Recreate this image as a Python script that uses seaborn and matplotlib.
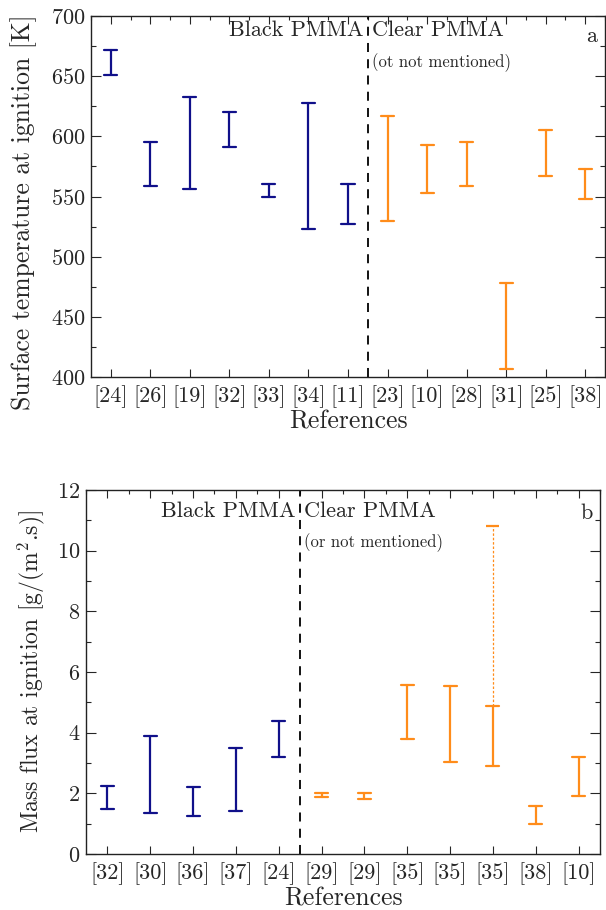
import numpy as np
import pandas as pd
import matplotlib
matplotlib.use("Agg")
import matplotlib.pyplot as plt
import seaborn as sns
from matplotlib.ticker import MultipleLocator

# ---------------- data ----------------
refs_a = ["[24]", "[26]", "[19]", "[32]", "[33]", "[34]", "[11]",
          "[23]", "[10]", "[28]", "[31]", "[25]", "[38]"]
low_a = [651, 559, 556, 591, 550, 523, 527, 530, 553, 559, 407, 567, 548]
high_a = [672, 595, 633, 620, 560, 628, 560, 617, 593, 595, 478, 605, 573]
group_a = ["Black"] * 7 + ["Clear"] * 6

refs_b = ["[32]", "[30]", "[36]", "[37]", "[24]", "[29]", "[29]",
          "[35]", "[35]", "[35]", "[38]", "[10]"]
low_b = [1.50, 1.35, 1.25, 1.42, 3.20, 1.88, 1.80, 3.78, 3.02, 2.90, 1.00, 1.92]
high_b = [2.25, 3.90, 2.22, 3.50, 4.40, 2.02, 2.02, 5.58, 5.55, 4.88, 1.58, 3.20]
group_b = ["Black"] * 5 + ["Clear"] * 7
ext_idx_b = 9          # index of the point with an extended (dotted) range
ext_high_b = 10.8

palette = {"Black": "#10108a", "Clear": "#ff8c1a"}

# ---------------- style ----------------
sns.set_style("ticks")
plt.rcParams["font.family"] = ["cmr10", "DejaVu Serif"]
plt.rcParams["mathtext.fontset"] = "cm"
plt.rcParams["axes.formatter.use_mathtext"] = True
plt.rcParams["axes.unicode_minus"] = False

fig = plt.figure(figsize=(6.06, 9.10), dpi=100)
W, H = 606, 910
ax1 = fig.add_axes([91 / W, 1 - 377 / H, (605 - 91) / W, (377 - 16) / H])
ax2 = fig.add_axes([86 / W, 1 - 854 / H, (600 - 86) / W, (854 - 490) / H])


def long_df(low, high, group):
    rows = []
    for i, (lo, hi, g) in enumerate(zip(low, high, group)):
        rows.append({"pos": i, "val": lo, "grp": g})
        rows.append({"pos": i, "val": hi, "grp": g})
    return pd.DataFrame(rows)


def draw(ax, refs, low, high, group, capsize):
    df = long_df(low, high, group)
    sns.pointplot(data=df, x="pos", y="val", hue="grp", palette=palette,
                  errorbar=lambda v: (v.min(), v.max()), estimator="mean",
                  markers="", linestyles="none", capsize=capsize,
                  err_kws={"linewidth": 1.6}, dodge=False, legend=False,
                  ax=ax)
    ax.set_xticks(range(len(refs)))
    ax.set_xticklabels(refs)
    ax.set_xlim(-0.5, len(refs) - 0.5)


draw(ax1, refs_a, low_a, high_a, group_a, 0.33)
draw(ax2, refs_b, low_b, high_b, group_b, 0.30)

# dotted extension of one range in panel b
ax2.vlines(ext_idx_b, high_b[ext_idx_b], ext_high_b, colors=palette["Clear"],
           linestyles=(0, (2, 1.5)), linewidth=0.9)
ax2.hlines(ext_high_b, ext_idx_b - 0.15, ext_idx_b + 0.15,
           colors=palette["Clear"], linewidth=1.6)

# axes formatting
ax1.set_ylim(400, 700)
ax1.yaxis.set_major_locator(MultipleLocator(50))
ax1.yaxis.set_minor_locator(MultipleLocator(25))
ax2.set_ylim(0, 12)
ax2.yaxis.set_major_locator(MultipleLocator(2))
ax2.yaxis.set_minor_locator(MultipleLocator(1))

for ax in (ax1, ax2):
    ax.xaxis.set_minor_locator(MultipleLocator(0.5))
    ax.tick_params(axis="both", which="both", direction="in",
                   top=True, right=True, labelsize=16, width=0.8)
    ax.tick_params(axis="x", which="major", length=6, pad=6)
    ax.tick_params(axis="x", which="minor", length=3, bottom=False)
    ax.tick_params(axis="y", which="major", length=7, pad=4)
    ax.tick_params(axis="y", which="minor", length=3.5)
    for s in ax.spines.values():
        s.set_linewidth(1.0)
        s.set_color("#222222")
    ax.set_xlabel("References", fontsize=18.5, labelpad=1)

ax1.set_ylabel("Surface temperature at ignition [K]", fontsize=18.5, labelpad=9)
ax1.yaxis.set_label_coords(-0.105, 0.457)
ax2.set_ylabel(r"Mass flux at ignition [g/(m$^2$.s)]", fontsize=17, labelpad=7)

# group separators and annotations
ax1.axvline(6.5, color="black", linestyle=(0, (5, 4)), linewidth=1.3)
ax2.axvline(4.5, color="black", linestyle=(0, (5, 4)), linewidth=1.3)

ax1.text(6.4, 688, "Black PMMA", ha="right", va="center", fontsize=16)
ax1.text(6.6, 688, "Clear PMMA", ha="left", va="center", fontsize=16)
ax1.text(6.6, 661, "(ot not mentioned)", ha="left", va="center", fontsize=12)
ax1.text(0.985, 0.945, "a", transform=ax1.transAxes, ha="right", va="center",
         fontsize=16)

ax2.text(4.4, 11.3, "Black PMMA", ha="right", va="center", fontsize=16)
ax2.text(4.6, 11.3, "Clear PMMA", ha="left", va="center", fontsize=16)
ax2.text(4.6, 10.28, "(or not mentioned)", ha="left", va="center", fontsize=12)
ax2.text(0.985, 0.935, "b", transform=ax2.transAxes, ha="right", va="center",
         fontsize=16)

fig.savefig("out.png", dpi=100)
